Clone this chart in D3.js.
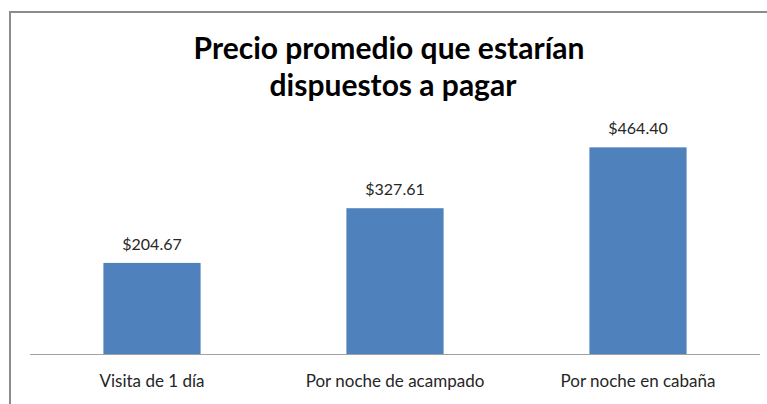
<!DOCTYPE html>
<html>
<head>
<meta charset="utf-8">
<script src="https://cdn.jsdelivr.net/npm/d3@7"></script>
<style>
  html, body { margin: 0; padding: 0; background: #fff; }
  svg { display: block; }
</style>
</head>
<body>
<div id="chart"></div>
<script>
const categories = ['Visita de 1 día', 'Por noche de acampado', 'Por noche en cabaña']
const values = [204.67, 327.61, 464.40]
const titleLines = ['Precio promedio que estarían', 'dispuestos a pagar']

const width = 767
const height = 404

const svg = d3.select('#chart').append('svg')
  .attr('width', width)
  .attr('height', height)

// chart frame (cut off at right and bottom)
svg.append('rect')
  .attr('x', 10)
  .attr('y', 12)
  .attr('width', 900)
  .attr('height', 600)
  .attr('fill', '#fff')
  .attr('stroke', '#8c8c8c')
  .attr('stroke-width', 2)

const x = d3.scaleBand()
  .domain(categories)
  .range([30.5, 759.5])
  .paddingInner(0.6)
  .paddingOuter(0.3)

const y = d3.scaleLinear()
  .domain([0, 500])
  .range([354, 131.5])

// title
svg.append('text')
  .attr('x', 389)
  .attr('y', 59)
  .attr('text-anchor', 'middle')
  .style('font-family', 'Lato, sans-serif')
  .style('font-weight', 'bold')
  .style('font-size', '30px')
  .selectAll('tspan')
  .data(titleLines)
  .join('tspan')
  .attr('x', (d, i) => i === 0 ? 389 : 393)
  .attr('dy', (d, i) => i === 0 ? 0 : 37)
  .text(d => d)

// bars
svg.append('g')
  .selectAll('rect')
  .data(values)
  .join('rect')
  .attr('x', (d, i) => x(categories[i]))
  .attr('y', d => y(d))
  .attr('width', x.bandwidth())
  .attr('height', d => y(0) - y(d))
  .attr('fill', '#4f81bd')

// value labels
svg.append('g')
  .selectAll('text')
  .data(values)
  .join('text')
  .attr('x', (d, i) => x(categories[i]) + x.bandwidth() / 2)
  .attr('y', d => y(d) - 13)
  .attr('text-anchor', 'middle')
  .style('font-family', 'Lato, sans-serif')
  .style('font-size', '16px')
  .attr('fill', '#262626')
  .text(d => '$' + d3.format('.2f')(d))

// x axis
const xAxis = svg.append('g')
  .attr('transform', 'translate(0,' + y(0) + ')')
  .call(d3.axisBottom(x).tickSize(0).tickPadding(0))

xAxis.select('.domain')
  .attr('stroke', '#a0a0a0')
  .attr('d', 'M30,0.5H760')

xAxis.selectAll('text')
  .attr('dy', 0)
  .attr('y', 33)
  .style('font-family', 'Lato, sans-serif')
  .style('font-size', '17px')
  .attr('fill', '#262626')
</script>
</body>
</html>
